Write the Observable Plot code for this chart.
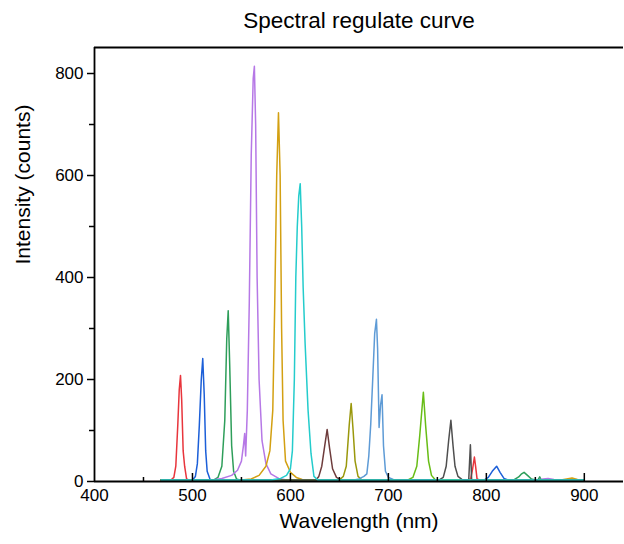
<!DOCTYPE html>
<html>
<head>
<meta charset="utf-8">
<script src="https://cdn.jsdelivr.net/npm/d3@7"></script>
<script src="https://cdn.jsdelivr.net/npm/@observablehq/plot@0.6"></script>
<style>
  body { margin: 0; background: #fff; }
  #chart { width: 624px; height: 544px; }
</style>
</head>
<body>
<div id="chart"></div>
<script>
// ---- data: [wavelength (nm), intensity (counts)] per spectral channel ----
const s488 = [[468,3],[478,3],[481,8],[483,30],[485,110],[486.5,180],[487.8,208],[489,160],[490.5,60],[492,30],[494,5],[496,3],[780,3],[784,5],[786,25],[787.8,48],[789,30],[790.5,5],[793,3],[900,3]];
const s510 = [[468,3],[500,3],[503,10],[505,35],[507,110],[509,200],[510.5,241],[512,170],[513.5,60],[515,20],[518,4],[520,3],[798,3],[802,8],[806,20],[810.5,30],[814,18],[818,6],[822,3],[900,3]];
const s537 = [[468,3],[522,3],[526,8],[530,30],[533,120],[535,280],[536.5,335],[538,230],[540,70],[542,20],[545,5],[548,3],[828,3],[833,9],[836,15],[838.5,18],[842,12],[846,5],[850,3],[853,4],[854.5,9],[856,3],[900,3]];
const s563 = [[468,3],[520,3],[530,6],[540,12],[546,22],[550,40],[552,70],[553.3,94],[554.3,50],[556,140],[558,350],[560,640],[562,790],[563.2,814],[564.5,700],[566,400],[568,200],[571,80],[575,35],[580,15],[588,6],[596,3],[852,3],[858,5],[863,6],[869,4],[875,3],[900,3]];
const s588 = [[468,3],[550,3],[560,5],[568,12],[575,30],[579,60],[582,140],[584,350],[586,600],[587.8,723],[589.5,600],[591,300],[592.5,120],[595,40],[600,18],[606,8],[612,4],[620,3],[876,3],[882,5],[887.5,7],[893,4],[900,3]];
const s610 = [[468,3],[580,3],[590,6],[596,12],[600,25],[602,60],[604,200],[605.5,400],[607,500],[608.5,560],[610,584],[611.5,500],[613,380],[615,270],[618,140],[621,55],[624,10],[628,3],[900,3]];
const s638 = [[468,3],[626,3],[629,10],[632,30],[635,70],[637.5,102],[640,65],[643,25],[647,8],[652,3],[900,3]];
const s662 = [[468,3],[650,3],[654,10],[657,30],[660,110],[662,153],[664,100],[666,40],[669,10],[673,3],[900,3]];
const s688 = [[468,3],[665,3],[670,5],[675,10],[678,15],[680,50],[682,113],[684,200],[686,290],[687.8,318],[689,260],[690.5,106],[692,150],[693.5,170],[695,70],[697,20],[700,8],[705,4],[710,3],[900,3]];
const s736 = [[468,3],[720,3],[725,8],[729,30],[732,90],[735.7,175],[738,110],[741,40],[744,12],[748,3],[900,3]];
const s763 = [[468,3],[752,3],[756,8],[759,30],[761.5,80],[763.8,120],[766,70],[768,30],[771,10],[775,4],[782,3],[783.7,72],[785,3],[900,3]];

const seriesNames = ["488","510","537","563","588","638","662","688","736","763","610"];
const seriesData  = [s488, s510, s537, s563, s588, s638, s662, s688, s736, s763, s610];
const seriesColors = ["#e8353c","#1c5fd8","#2e9e5a","#b678e6","#d3a012","#6e3c3c","#9a980c","#5e9bd6","#68bd16","#4f4f4f","#24cccc"];

const xMajor = [400, 500, 600, 700, 800, 900];
const xMinor = [450, 550, 650, 750, 850];
const yMajor = [0, 200, 400, 600, 800];
const yMinor = [100, 300, 500, 700];

const rows = seriesNames.flatMap((name, k) =>
  seriesData[k].map(([w, v]) => ({series: name, w, v}))
);

const chart = Plot.plot({
  width: 624,
  height: 544,
  marginLeft: 94,
  marginRight: 1,
  marginTop: 47,
  marginBottom: 63,
  style: {fontFamily: "Arial, 'Liberation Sans', sans-serif", fontSize: "17px", color: "#000", background: "#fff"},
  x: {domain: [400, 940], label: null},
  y: {domain: [0, 851], label: null},
  color: {domain: seriesNames, range: seriesColors},
  marks: [
    Plot.line(rows, {x: "w", y: "v", z: "series", stroke: "series", strokeWidth: 1.5, curve: "linear"}),
    // frame lines
    Plot.ruleY([0], {stroke: "#000", strokeWidth: 1.8}),
    Plot.ruleX([400], {stroke: "#000", strokeWidth: 1.8}),
    Plot.ruleY([851], {stroke: "#000", strokeWidth: 1.8}),
    // x axis (labels) + inward ticks
    Plot.axisX({ticks: xMajor, tickSize: 0, tickPadding: 7, tickFormat: d => String(d), fontSize: 17}),
    Plot.ruleX(xMajor.slice(1), {x: d => d, y1: 0, y2: 0, insetBottom: 8, stroke: "#000", strokeWidth: 1.5}),
    Plot.ruleX(xMinor, {x: d => d, y1: 0, y2: 0, insetBottom: 4, stroke: "#000", strokeWidth: 1.5}),
    // y axis
    Plot.axisY({ticks: yMajor, tickSize: 7, tickPadding: 4, tickFormat: d => String(d), fontSize: 17, strokeWidth: 1.5}),
    Plot.axisY({ticks: yMinor, tickSize: 5, tickFormat: () => "", strokeWidth: 1.5}),
    // titles
    Plot.text(["Spectral regulate curve"], {frameAnchor: "top", dy: -35, fontSize: 22.5, fill: "#000"}),
    Plot.text(["Wavelength (nm)"], {frameAnchor: "bottom", dy: 46, fontSize: 21, fill: "#000"}),
    Plot.text(["Intensity (counts)"], {frameAnchor: "left", dx: -71, rotate: -90, fontSize: 21, fill: "#000"})
  ]
});
document.getElementById("chart").appendChild(chart);
</script>
</body>
</html>
